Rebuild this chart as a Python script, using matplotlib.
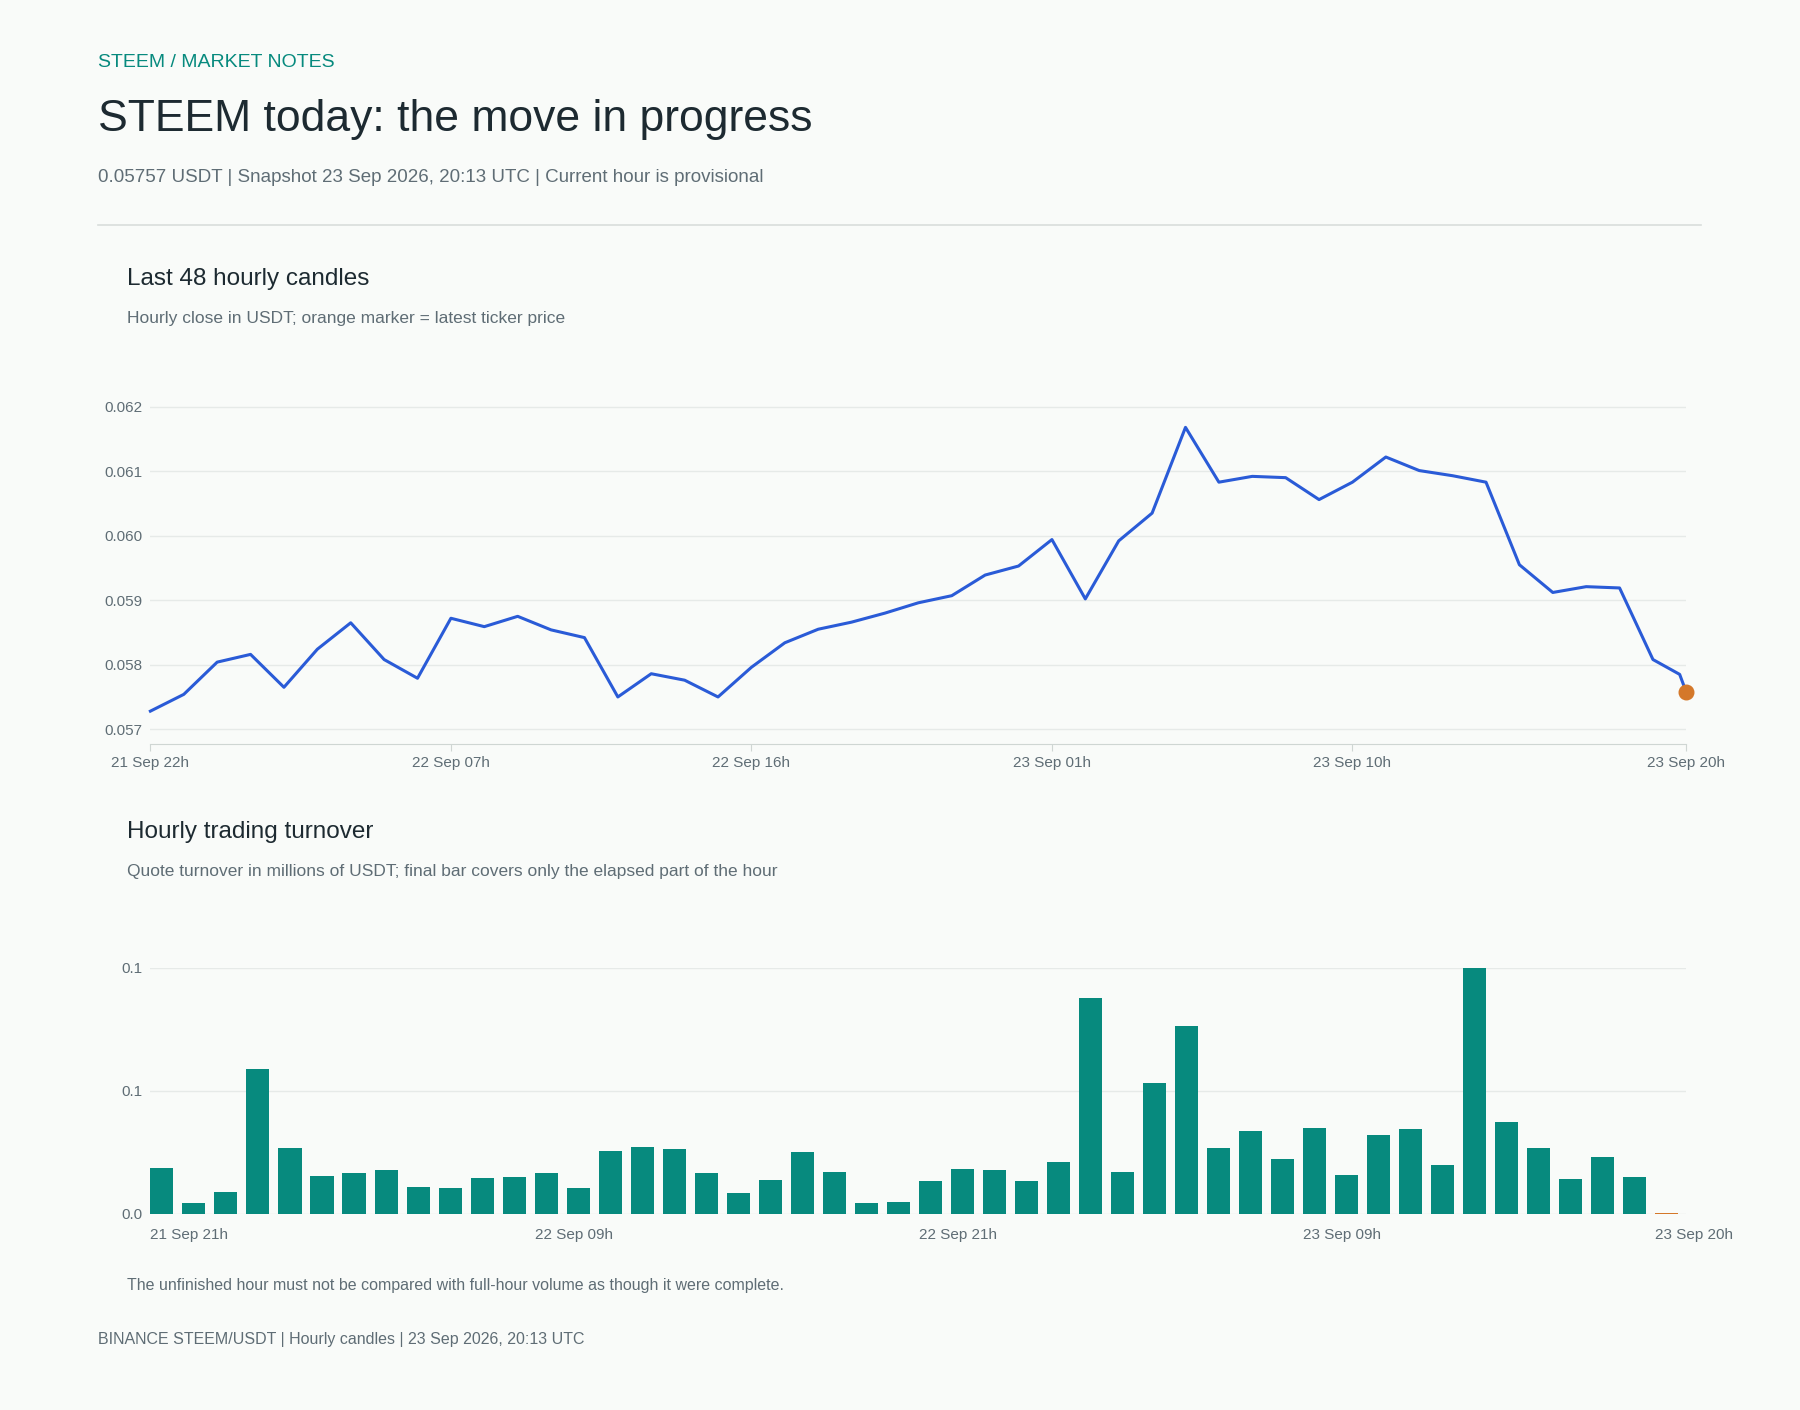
import matplotlib.pyplot as plt
from matplotlib.ticker import FuncFormatter

plt.rcParams['font.family'] = ['Liberation Sans', 'DejaVu Sans']

# hourly closes, 21 Sep 22h .. 23 Sep 19h, then the provisional 20h close
close = [0.05728, 0.05754, 0.05804, 0.05816, 0.05765, 0.05824, 0.05865, 0.05808,
         0.05779, 0.05872, 0.05859, 0.05875, 0.05854, 0.05842, 0.05750, 0.05786,
         0.05776, 0.05750, 0.05796, 0.05834, 0.05855, 0.05866, 0.05880, 0.05896,
         0.05907, 0.05939, 0.05953, 0.05994, 0.05902, 0.05992, 0.06035, 0.06168,
         0.06083, 0.06092, 0.06090, 0.06056, 0.06083, 0.06122, 0.06101, 0.06093,
         0.06083, 0.05955, 0.05912, 0.05921, 0.05919, 0.05808, 0.05785]
close_x = list(range(46)) + [45.8]
ticker_price = 0.05757
line_ticks = [0, 9, 18, 27, 36, 46]
line_labels = ['21 Sep 22h', '22 Sep 07h', '22 Sep 16h', '23 Sep 01h', '23 Sep 10h', '23 Sep 20h']

# quote turnover (millions USDT), 21 Sep 21h .. 23 Sep 20h
turnover = [0.0187, 0.0042, 0.0089, 0.0589, 0.0266, 0.0154, 0.0164, 0.0178,
            0.0107, 0.0103, 0.0145, 0.0150, 0.0164, 0.0103, 0.0257, 0.0271,
            0.0262, 0.0164, 0.0084, 0.0136, 0.0252, 0.0168, 0.0042, 0.0047,
            0.0131, 0.0182, 0.0178, 0.0131, 0.0210, 0.0879, 0.0168, 0.0533,
            0.0762, 0.0266, 0.0336, 0.0224, 0.0350, 0.0159, 0.0322, 0.0346,
            0.0196, 0.1000, 0.0374, 0.0266, 0.0140, 0.0229, 0.0150, 0.0004]
bar_ticks = [0, 12, 24, 36, 47]
bar_labels = ['21 Sep 21h', '22 Sep 09h', '22 Sep 21h', '23 Sep 09h', '23 Sep 20h']

BG = '#f9fbf9'
DARK = '#1d2a31'
GREY = '#5f6d75'
TEAL = '#078a7e'
BLUE = '#2a5bd7'
ORANGE = '#d4782a'
GRID = '#e6eae8'

W, H = 1568, 1228
fig = plt.figure(figsize=(18, 14.1), dpi=100, facecolor=BG)

def fx(x): return x / W
def fy(y): return 1 - y / H

fig.text(fx(85), fy(54), 'STEEM / MARKET NOTES', color=TEAL, fontsize=14, va='center')
fig.text(fx(85), fy(104), 'STEEM today: the move in progress', color=DARK, fontsize=32, va='center')
fig.text(fx(85), fy(155), '0.05757 USDT | Snapshot 23 Sep 2026, 20:13 UTC | Current hour is provisional',
         color=GREY, fontsize=13.5, va='center')
fig.add_artist(plt.Line2D([fx(85), fx(1482)], [fy(196), fy(196)], color='#d9dedc', lw=1.2))

fig.text(fx(111), fy(243), 'Last 48 hourly candles', color=DARK, fontsize=17.5, va='center')
fig.text(fx(111), fy(277), 'Hourly close in USDT; orange marker = latest ticker price', color=GREY, fontsize=12.5, va='center')
fig.text(fx(111), fy(725), 'Hourly trading turnover', color=DARK, fontsize=17.5, va='center')
fig.text(fx(111), fy(759), 'Quote turnover in millions of USDT; final bar covers only the elapsed part of the hour',
         color=GREY, fontsize=12.5, va='center')
fig.text(fx(111), fy(1120), 'The unfinished hour must not be compared with full-hour volume as though it were complete.',
         color=GREY, fontsize=11.5, va='center')
fig.text(fx(85), fy(1167), 'BINANCE STEEM/USDT | Hourly candles | 23 Sep 2026, 20:13 UTC',
         color=GREY, fontsize=11.5, va='center')

def style(ax):
    ax.set_facecolor(BG)
    for s in ['top', 'right', 'left']:
        ax.spines[s].set_visible(False)
    ax.spines['bottom'].set_color('#cfd6d3')
    ax.grid(axis='y', color=GRID, lw=1)
    ax.set_axisbelow(True)
    ax.tick_params(axis='y', length=0, labelsize=11, labelcolor=GREY, pad=6)
    ax.tick_params(axis='x', length=5, color='#cfd6d3', labelsize=11, labelcolor=GREY)

# line panel
ax1 = fig.add_axes([fx(131), fy(648), fx(1469 - 131), (648 - 325) / H])
style(ax1)
ax1.plot(close_x + [46], close + [ticker_price], color=BLUE, lw=2.2, clip_on=False)
ax1.scatter([46], [ticker_price], s=110, color=ORANGE, zorder=5, clip_on=False)
ax1.set_xlim(0, 46)
ax1.set_ylim(0.05677, 0.06252)
ax1.set_yticks([0.057, 0.058, 0.059, 0.060, 0.061, 0.062])
ax1.yaxis.set_major_formatter(FuncFormatter(lambda v, p: f'{v:.3f}'))
ax1.set_xticks(line_ticks)
ax1.set_xticklabels(line_labels)

# bar panel
ax2 = fig.add_axes([fx(131), fy(1057), fx(1469 - 131), (1057 - 843) / H])
style(ax2)
ax2.spines['bottom'].set_visible(False)
colors = [TEAL] * (len(turnover) - 1) + [ORANGE]
ax2.bar(range(len(turnover)), turnover, width=0.72, color=colors)
ax2.set_xlim(-0.36, 47.61)
ax2.set_ylim(0, 0.1)
ax2.set_yticks([0, 0.05, 0.1])
ax2.yaxis.set_major_formatter(FuncFormatter(lambda v, p: f'{v:.1f}'))
ax2.set_xticks([t - 0.36 for t in bar_ticks])
ax2.set_xticklabels(bar_labels, ha='left')
ax2.tick_params(axis='x', length=0, pad=10)

fig.savefig('out.png', dpi=100, facecolor=BG)
